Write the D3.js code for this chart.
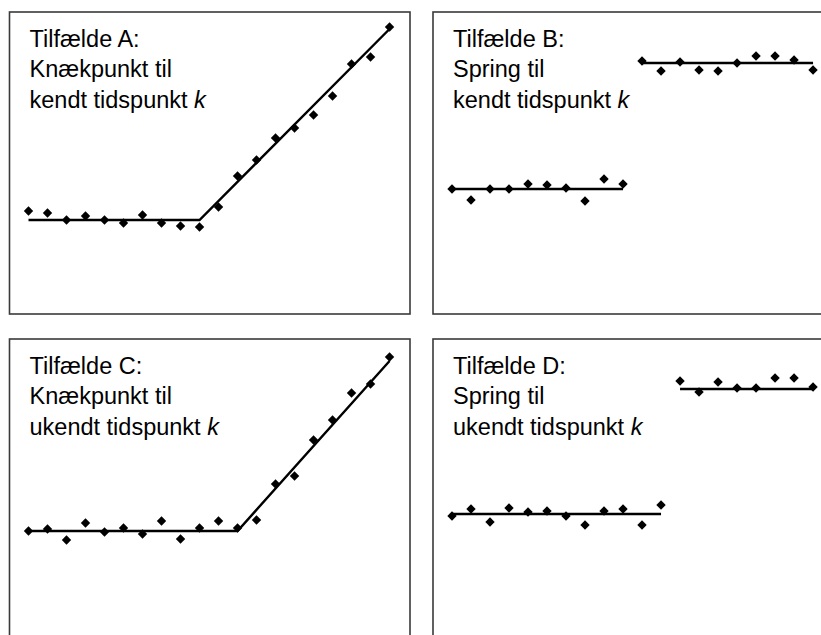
<!DOCTYPE html>
<html>
<head>
<meta charset="utf-8">
<script src="https://cdn.jsdelivr.net/npm/d3@7"></script>
<style>
  html, body { margin: 0; padding: 0; background: #fff; }
  svg { display: block; }
</style>
</head>
<body>
<svg id="chart" width="821" height="635"></svg>
<script>
// time index (categories)
const timeIdx = [1,2,3,4,5,6,7,8,9,10,11,12,13,14,15,16,17,18,19,20];

// panel titles
const titleA = ["Tilfælde A:", "Knækpunkt til", "kendt tidspunkt "];
const titleB = ["Tilfælde B:", "Spring til", "kendt tidspunkt "];
const titleC = ["Tilfælde C:", "Knækpunkt til", "ukendt tidspunkt "];
const titleD = ["Tilfælde D:", "Spring til", "ukendt tidspunkt "];

// observed values
const valuesA = [2.9, 2.7, 2.0, 2.4, 2.0, 1.7, 2.5, 1.7, 1.4, 1.3, 3.3, 6.4, 8.0, 10.2, 11.2, 12.5, 14.4, 17.6, 18.3, 21.3];
const valuesB = [5.1, 4.0, 5.1, 5.1, 5.6, 5.5, 5.2, 3.9, 6.1, 5.6, 17.9, 16.9, 17.8, 17.0, 16.9, 17.7, 18.4, 18.4, 18.0, 17.0];
const valuesC = [3.6, 3.8, 2.7, 4.4, 3.5, 3.9, 3.3, 4.6, 2.8, 3.9, 4.6, 3.9, 4.7, 8.3, 9.1, 12.7, 14.7, 17.4, 18.3, 21.0];
const valuesD = [5.1, 5.8, 4.5, 5.9, 5.5, 5.6, 5.1, 4.2, 5.6, 5.8, 4.2, 6.2, 18.6, 17.5, 18.5, 17.9, 17.9, 18.9, 18.9, 18.0];

// fitted lines (segments of [t, value] pairs)
const fitA = [[[1, 2.0], [10, 2.0], [20, 21.1]]];
const fitB = [[[1, 5.1], [10, 5.1]], [[11, 17.7], [20, 17.7]]];
const fitC = [[[1, 3.6], [12, 3.6], [20, 20.6]]];
const fitD = [[[1, 5.3], [12, 5.3]], [[13, 17.8], [20, 17.8]]];

const panels = [
  { left: 9.5, top: 12, w: 400.5, h: 302, title: titleA, values: valuesA, fit: fitA },
  { left: 433, top: 12, w: 420, h: 302, title: titleB, values: valuesB, fit: fitB },
  { left: 9.5, top: 339, w: 400.5, h: 310, title: titleC, values: valuesC, fit: fitC },
  { left: 433, top: 339, w: 420, h: 310, title: titleD, values: valuesD, fit: fitD }
];

const svg = d3.select("#chart");

const x = d3.scaleLinear().domain([0, 21.05]).range([0, 400]);
const y = d3.scaleLinear().domain([-7.4, 22.8]).range([302, 0]);

const line = d3.line().x(d => x(d[0])).y(d => y(d[1]));
const diamond = d3.symbol().type(d3.symbolSquare).size(44);

panels.forEach(p => {
  const g = svg.append("g").attr("transform", `translate(${p.left},${p.top})`);

  g.append("rect")
    .attr("x", 0).attr("y", 0)
    .attr("width", p.w).attr("height", p.h)
    .attr("fill", "none")
    .attr("stroke", "#3a3a3a")
    .attr("stroke-width", 1.6);

  const txt = g.append("g")
    .attr("font-family", "'Liberation Sans', Arial, sans-serif")
    .attr("font-size", 23.5)
    .attr("fill", "#000");
  p.title.forEach((s, i) => {
    const t = txt.append("text")
      .attr("x", 20)
      .attr("y", 34.5 + i * 30.8)
      .text(s);
    if (i === 2) t.append("tspan").attr("font-style", "italic").text("k");
  });

  p.fit.forEach(seg => {
    g.append("path")
      .attr("d", line(seg))
      .attr("fill", "none")
      .attr("stroke", "#000")
      .attr("stroke-width", 2.4);
  });

  g.selectAll("path.pt")
    .data(timeIdx.map((t, i) => [t, p.values[i]]))
    .join("path")
    .attr("class", "pt")
    .attr("d", diamond)
    .attr("transform", d => `translate(${x(d[0])},${y(d[1])}) rotate(45)`)
    .attr("fill", "#000");
});
</script>
</body>
</html>
